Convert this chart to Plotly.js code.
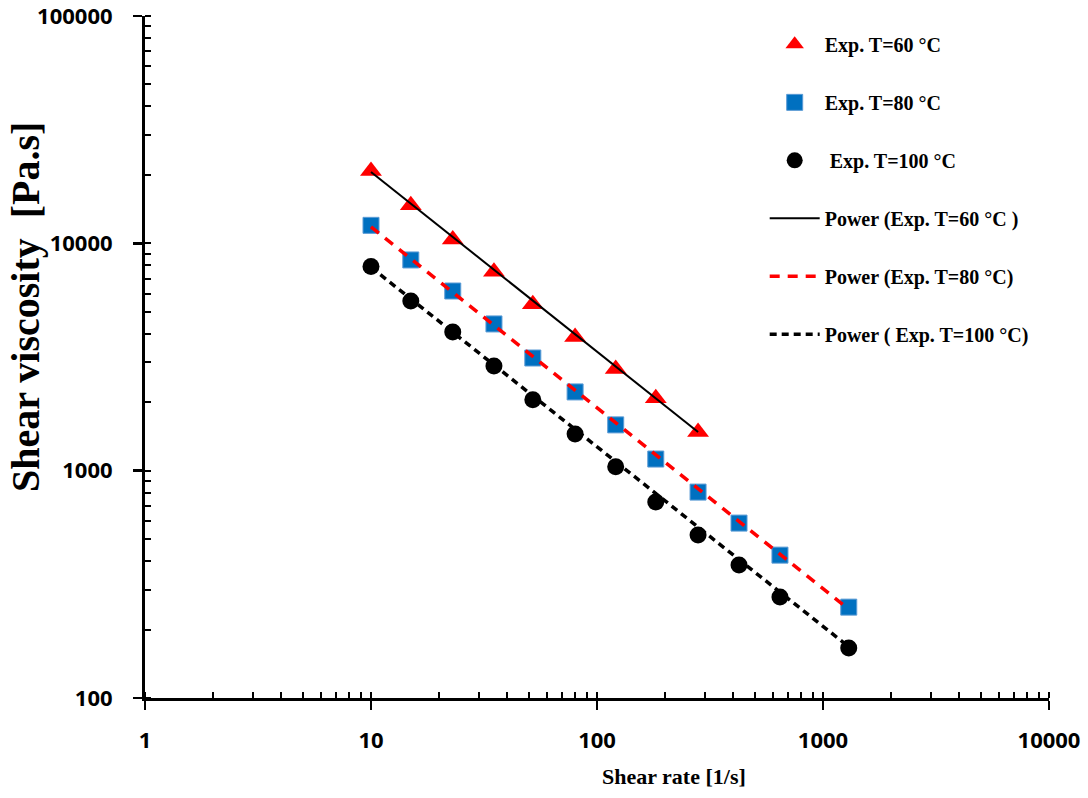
<!DOCTYPE html>
<html>
<head>
<meta charset="utf-8">
<script src="https://cdn.plot.ly/plotly-3.0.1.min.js"></script>
<style>html,body{margin:0;padding:0;background:#fff;}#chart{width:1088px;height:798px;}</style>
</head>
<body>
<div id="chart"></div>
<script>
// Shear rate [1/s] of experimental points
const shearRate = [10, 15, 23, 35, 52, 80, 121, 182, 280, 425, 645, 1300];
const shearRate60 = [10, 15, 23, 35, 52, 80, 121, 182, 280];
// Shear viscosity [Pa.s]
const visc60  = [20800, 14700, 10400, 7500, 5400, 3870, 2800, 2080, 1480];
const visc80  = [12000, 8450, 6170, 4420, 3130, 2220, 1590, 1125, 805, 588, 425, 251];
const visc100 = [7900, 5570, 4070, 2890, 2050, 1450, 1040, 728, 521, 385, 278, 166];
// Power-law trend lines (end points)
const fit60Rate  = [10, 280];
const fit60      = [20600, 1480];
const fit80Rate  = [10, 1300];
const fit80      = [11800, 246];
const fit100Rate = [10, 1300];
const fit100     = [7850, 168];
// Tick labels
const xTickVals = [1, 10, 100, 1000, 10000];
const xTickText = ['1', '10', '100', '1000', '10000'];
const yTickVals = [100, 1000, 10000, 100000];
const yTickText = ['100', '1000', '10000', '100000'];
// Names
const seriesNames = ['Exp. T=60 °C', 'Exp. T=80 °C', ' Exp. T=100 °C',
  'Power (Exp. T=60 °C )', 'Power (Exp. T=80 °C)', 'Power ( Exp. T=100 °C)'];

const traces = [
  {x: shearRate60, y: visc60, mode: 'markers', type: 'scatter', name: seriesNames[0], legendgroup: 'a',
   marker: {symbol: 'triangle-up', size: 19, color: '#FF0000'}},
  {x: shearRate, y: visc80, mode: 'markers', type: 'scatter', name: seriesNames[1], legendgroup: 'b',
   marker: {symbol: 'square', size: 16, color: '#0070C0', line: {width: 1, color: '#5B9BD5'}}},
  {x: shearRate, y: visc100, mode: 'markers', type: 'scatter', name: seriesNames[2], legendgroup: 'c',
   marker: {symbol: 'circle', size: 17, color: '#000000'}},
  {x: fit60Rate, y: fit60, mode: 'lines', type: 'scatter', name: seriesNames[3], legendgroup: 'd',
   line: {color: '#000000', width: 2}},
  {x: fit80Rate, y: fit80, mode: 'lines', type: 'scatter', name: seriesNames[4], legendgroup: 'e',
   line: {color: '#FF0000', width: 3.5, dash: '10px,8px'}},
  {x: fit100Rate, y: fit100, mode: 'lines', type: 'scatter', name: seriesNames[5], legendgroup: 'f',
   line: {color: '#000000', width: 3.5, dash: '7px,5px'}}
];

const tickFont = {family: 'Open Sans, sans-serif', size: 22, color: '#000', weight: 700};
const serif = 'Liberation Serif, Times New Roman, serif';

const layout = {
  width: 1088, height: 798,
  margin: {l: 145, r: 39, t: 16, b: 100},
  paper_bgcolor: '#fff', plot_bgcolor: '#fff',
  showlegend: true,
  legend: {x: 0.6855, y: 0.987, xanchor: 'left', yanchor: 'top', bgcolor: 'rgba(0,0,0,0)',
    font: {family: serif, size: 20, color: '#000', weight: 700},
    itemwidth: 50, tracegroupgap: 29, traceorder: 'grouped'},
  xaxis: {type: 'log', range: [-0.00001, 4.00001], showline: true, linecolor: '#000', linewidth: 3,
    ticks: 'outside', ticklen: 9, tickwidth: 2.5, tickcolor: '#000',
    tickmode: 'array', tickvals: xTickVals, ticktext: xTickText, tickfont: tickFont,
    ticklabelstandoff: 12, ticklabeloverflow: 'allow', showgrid: false, zeroline: false,
    minor: {ticks: 'inside', ticklen: 6, tickwidth: 2, tickcolor: '#000', dtick: 'D1', tickmode: 'linear', showgrid: false}},
  yaxis: {type: 'log', range: [1.99999, 5.00001], showline: true, linecolor: '#000', linewidth: 3,
    ticks: 'outside', ticklen: 9, tickwidth: 2.5, tickcolor: '#000',
    tickmode: 'array', tickvals: yTickVals, ticktext: yTickText, tickfont: tickFont,
    ticklabelstandoff: 16, ticklabeloverflow: 'allow', showgrid: false, zeroline: false,
    minor: {ticks: 'inside', ticklen: 6, tickwidth: 2, tickcolor: '#000', dtick: 'D1', tickmode: 'linear', showgrid: false}},
  annotations: [
    {text: 'Shear rate [1/s]', xref: 'paper', yref: 'paper', x: (674 - 145) / 904, y: -(777 - 698) / 682,
     xanchor: 'center', yanchor: 'middle', showarrow: false,
     font: {family: serif, size: 22, color: '#000', weight: 700}},
    {text: 'Shear viscosity  [Pa.s]', xref: 'paper', yref: 'paper', x: (25 - 145) / 904, y: 1 - (307 - 16) / 682,
     xanchor: 'center', yanchor: 'middle', showarrow: false, textangle: -90,
     font: {family: serif, size: 40, color: '#000', weight: 700}}
  ]
};

Plotly.newPlot('chart', traces, layout, {displayModeBar: false, staticPlot: true});
</script>
</body>
</html>
